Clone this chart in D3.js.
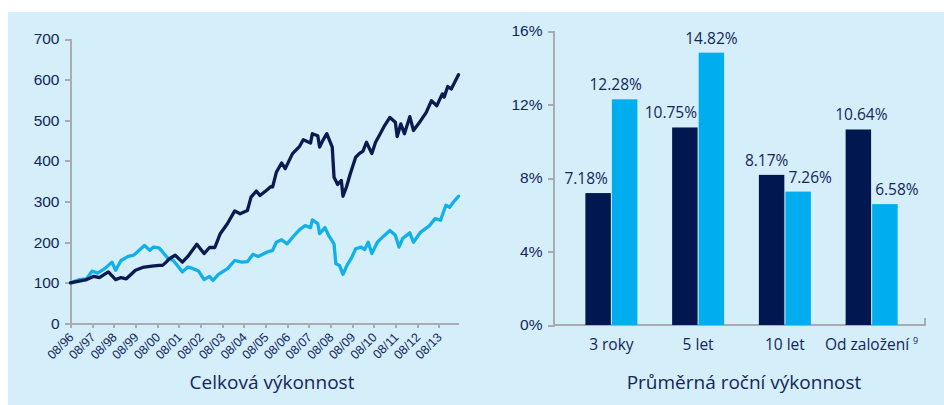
<!DOCTYPE html>
<html>
<head>
<meta charset="utf-8">
<script src="https://cdn.jsdelivr.net/npm/d3@7"></script>
<style>
  html, body { margin: 0; padding: 0; background: #ffffff; }
  svg { display: block; font-family: "Open Sans", "Noto Sans", sans-serif; }
  .axis path, .axis line { stroke: #a9adb3; stroke-width: 2px; shape-rendering: crispEdges; }
  .axis text { fill: #13265a; }
</style>
</head>
<body>
<svg id="chart" width="944" height="405"></svg>
<script>
// ---------------- DATA ----------------
// Left chart: total performance (index, 08/1996 = 100)
const fundDates = ["1996-08","1997-05","1997-09","1997-12","1998-05","1998-09","1998-12","1999-03","1999-08","1999-12",
  "2000-05","2000-09","2000-11","2001-01","2001-03","2001-06","2001-10","2002-01","2002-06","2002-10",
  "2003-01","2003-04","2003-07","2003-11","2004-03","2004-06","2004-10","2004-12","2005-03","2005-05",
  "2005-09","2005-11","2005-12","2006-02","2006-05","2006-07","2006-11","2007-03","2007-05","2007-09",
  "2007-10","2008-01","2008-02","2008-04","2008-06","2008-09","2008-10","2008-12","2009-02","2009-03",
  "2009-05","2009-07","2009-10","2009-12","2010-02","2010-04","2010-07","2010-09","2010-11","2011-02",
  "2011-05","2011-08","2011-09","2011-11","2012-01","2012-04","2012-06","2012-10","2013-01","2013-04",
  "2013-07","2013-10","2013-11","2014-01","2014-03","2014-07"];
const fundValues = [100,108,116,113,127,108,113,110,131,138,
  141,143,143,151,160,168,151,165,195,172,
  187,187,221,246,277,270,278,311,326,315,
  329,337,336,372,395,381,418,436,452,444,
  467,462,434,452,467,434,360,342,352,313,
  337,368,409,418,424,446,418,446,462,487,
  507,495,460,491,467,509,475,499,519,548,
  536,565,557,583,577,612];

const indexDates = ["1996-08","1997-01","1997-05","1997-08","1997-11","1998-03","1998-07","1998-09","1998-12","1999-04",
  "1999-07","1999-09","2000-01","2000-04","2000-06","2000-09","2000-11","2001-02","2001-05","2001-10",
  "2002-01","2002-04","2002-07","2002-10","2003-01","2003-03","2003-06","2003-11","2004-03","2004-07",
  "2004-10","2005-01","2005-04","2005-09","2005-12","2006-02","2006-05","2006-08","2006-12","2007-03",
  "2007-06","2007-09","2007-10","2008-01","2008-02","2008-05","2008-07","2008-10","2008-11","2009-01",
  "2009-03","2009-05","2009-08","2009-10","2010-01","2010-03","2010-05","2010-07","2010-10","2011-01",
  "2011-05","2011-08","2011-10","2011-12","2012-04","2012-06","2012-10","2013-03","2013-06","2013-09",
  "2013-12","2014-02","2014-05","2014-07"];
const indexValues = [100,108,110,129,124,135,151,131,155,165,
  168,176,192,180,188,186,176,160,155,127,
  139,135,129,108,116,106,121,135,155,151,
  152,170,165,176,180,200,206,196,217,231,
  241,236,255,246,221,236,217,196,147,143,
  121,141,164,184,188,182,200,172,200,213,
  229,217,188,209,223,200,225,241,258,254,
  291,286,303,313];

const leftYTicks = [0,100,200,300,400,500,600,700];
const leftTitle = "Celková výkonnost";

// Right chart: average annual performance
const categories = ["3 roky","5 let","10 let","Od založení"];
const fundAnnual  = [7.18, 10.75, 8.17, 10.64];
const indexAnnual = [12.28, 14.82, 7.26, 6.58];
const rightYTicks = [0,4,8,12,16];
const rightTitle = "Průměrná roční výkonnost";
const footnoteMark = "9";

// ---------------- LAYOUT / STYLE ----------------
const W = 944, H = 405;
const colDark = "#00184f", colLight = "#00aeef";
const lineDark = "#0b1b4f", lineLight = "#12b0ea";
const textCol = "#13265a";
const bg = "#d4eefa";
// manual horizontal nudges of value labels (as in the original layout)
const nudgeFund  = [-12, -14, -5, 3];
const nudgeIndex = [-9, 0, 12, 12];

const svg = d3.select("#chart");
svg.append("rect").attr("x", 8).attr("y", 12).attr("width", W - 8).attr("height", H - 12).attr("fill", bg);

// ---------------- LEFT CHART ----------------
const parse = d3.timeParse("%Y-%m");
const fundSeries = fundDates.map((d, i) => ({ date: parse(d), value: fundValues[i] }));
const indexSeries = indexDates.map((d, i) => ({ date: parse(d), value: indexValues[i] }));

const L = { left: 70.5, right: 458.5, top: 39, bottom: 323.5 };
const x = d3.scaleTime().domain([parse("1996-08"), parse("2014-07")]).range([L.left, L.right]);
const y = d3.scaleLinear().domain([0, 700]).range([L.bottom, L.top]);

const tickDates = d3.range(1996, 2014).map(yr => new Date(yr, 7, 1));
const xAxis = d3.axisBottom(x).tickValues(tickDates).tickFormat(d3.timeFormat("%m/%y"))
  .tickSize(4).tickSizeOuter(0);
const gx = svg.append("g").attr("class", "axis").attr("transform", `translate(0,${L.bottom})`).call(xAxis);
gx.selectAll("text")
  .attr("text-anchor", "end")
  .attr("font-size", "12.5px")
  .attr("dy", 0).attr("y", 0)
  .attr("transform", "translate(3.5,14.5) rotate(-45)");

const yAxis = d3.axisLeft(y).tickValues(leftYTicks).tickSize(6).tickSizeOuter(6).tickPadding(5);
const gy = svg.append("g").attr("class", "axis").attr("transform", `translate(${L.left},0)`).call(yAxis);
gy.selectAll("text").attr("font-size", "15.5px");

const line = d3.line().x(d => x(d.date)).y(d => y(d.value));
svg.append("path").datum(indexSeries).attr("d", line).attr("fill", "none")
  .attr("stroke", lineLight).attr("stroke-width", 3.3).attr("stroke-linejoin", "round").attr("stroke-linecap", "round");
svg.append("path").datum(fundSeries).attr("d", line).attr("fill", "none")
  .attr("stroke", lineDark).attr("stroke-width", 3.3).attr("stroke-linejoin", "round").attr("stroke-linecap", "round");

svg.append("text").attr("x", 272).attr("y", 389).attr("text-anchor", "middle")
  .attr("font-size", "19px").attr("fill", textCol).text(leftTitle);

// ---------------- RIGHT CHART ----------------
const R = { left: 553.5, right: 925, top: 31, bottom: 325 };
const x0 = d3.scaleBand().domain(categories).range([568, 915]);
const x1 = d3.scaleBand().domain(["fund", "index"]).range([-26, 26]).paddingInner(0.04);
const yr = d3.scaleLinear().domain([0, 16]).range([R.bottom, R.top]);

const yrAxis = d3.axisLeft(yr).tickValues(rightYTicks).tickFormat(d => d + "%")
  .tickSize(6).tickSizeOuter(6).tickPadding(5);
const gyr = svg.append("g").attr("class", "axis").attr("transform", `translate(${R.left},0)`).call(yrAxis);
gyr.selectAll("text").attr("font-size", "15.5px");

// x baseline with end tick pointing up
svg.append("path").attr("class", "axis")
  .attr("d", `M${R.left},${yr(0)}H${R.right}V${yr(0) - 7}`)
  .attr("fill", "none").attr("stroke", "#a9adb3").attr("stroke-width", 2);

const groups = svg.append("g").selectAll("g").data(categories).join("g")
  .attr("transform", d => `translate(${x0(d) + x0.bandwidth() / 2},0)`);

groups.append("rect")
  .attr("x", x1("fund")).attr("width", x1.bandwidth())
  .attr("y", (d, i) => yr(fundAnnual[i])).attr("height", (d, i) => yr(0) - yr(fundAnnual[i]))
  .attr("fill", colDark);
groups.append("rect")
  .attr("x", x1("index")).attr("width", x1.bandwidth())
  .attr("y", (d, i) => yr(indexAnnual[i])).attr("height", (d, i) => yr(0) - yr(indexAnnual[i]))
  .attr("fill", colLight);

const fmt = v => v.toFixed(2) + "%";
groups.append("text")
  .attr("x", (d, i) => x1("fund") + x1.bandwidth() / 2 + nudgeFund[i])
  .attr("y", (d, i) => yr(fundAnnual[i]) - 9)
  .attr("text-anchor", "middle").attr("font-size", "15.5px").attr("fill", textCol)
  .text((d, i) => fmt(fundAnnual[i]));
groups.append("text")
  .attr("x", (d, i) => x1("index") + x1.bandwidth() / 2 + nudgeIndex[i])
  .attr("y", (d, i) => yr(indexAnnual[i]) - 9)
  .attr("text-anchor", "middle").attr("font-size", "15.5px").attr("fill", textCol)
  .text((d, i) => fmt(indexAnnual[i]));

// category labels
const cat = groups.append("text").attr("x", 0).attr("y", 350)
  .attr("text-anchor", "middle").attr("font-size", "15.5px").attr("fill", textCol);
cat.append("tspan").text(d => d);
cat.filter(d => d === "Od založení").append("tspan")
  .attr("dx", 4).attr("dy", -6).attr("font-size", "9px").text(footnoteMark);

svg.append("text").attr("x", 744).attr("y", 389).attr("text-anchor", "middle")
  .attr("font-size", "19px").attr("fill", textCol).text(rightTitle);
</script>
</body>
</html>
